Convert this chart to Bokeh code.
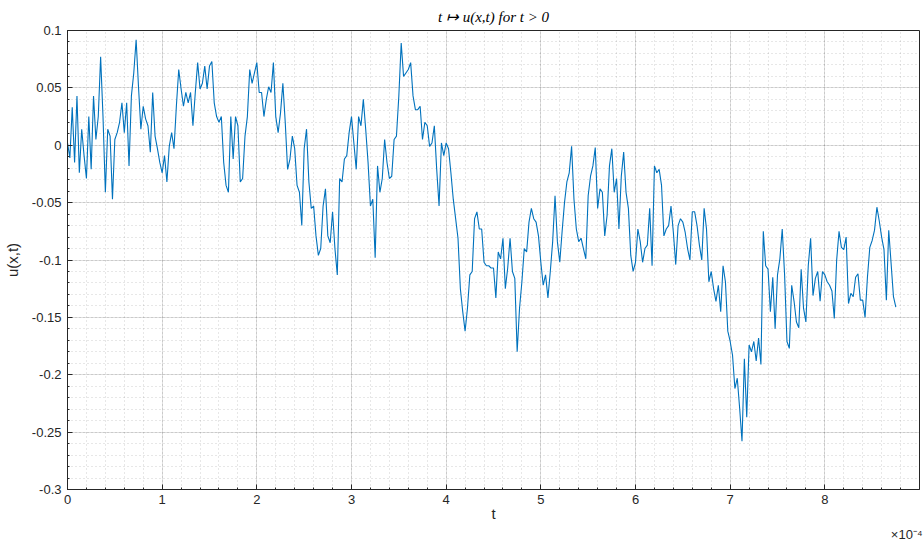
from bokeh.plotting import figure
from bokeh.models import Range1d, FixedTicker, CustomJSTickFormatter, Title
from bokeh.embed import file_html
from bokeh.resources import INLINE

# sampling step of the time axis (seconds)
t_step = 2.5e-6

# u(x,t), one value per time step
u_vals = [
    0.002, -0.011, 0.033, -0.015, 0.043, -0.024, 0.014, -0.009, -0.029, 0.025,
    -0.021, 0.043, 0.005, 0.025, 0.077, 0.025, -0.041, 0.014, 0.008, -0.047,
    0.005, 0.011, 0.020, 0.037, 0.011, 0.037, -0.018, 0.043, 0.063, 0.092,
    0.051, 0.014, 0.034, 0.023, 0.017, -0.006, 0.046, 0.008, -0.003, -0.015,
    -0.024, -0.009, -0.032, -0.001, 0.011, -0.003, 0.034, 0.066, 0.049, 0.034,
    0.046, 0.037, 0.046, 0.017, 0.046, 0.072, 0.049, 0.054, 0.069, 0.049,
    0.069, 0.073, 0.037, 0.025, 0.020, 0.025, -0.015, -0.035, -0.041, 0.025,
    -0.012, 0.025, 0.017, -0.032, -0.029, 0.008, 0.025, 0.066, 0.054, 0.063,
    0.072, 0.046, 0.046, 0.025, 0.040, 0.051, 0.046, 0.072, 0.025, 0.011,
    0.028, 0.054, 0.020, -0.021, -0.012, 0.008, -0.003, -0.035, -0.041, -0.070,
    -0.003, 0.014, -0.032, -0.055, -0.053, -0.079, -0.096, -0.090, -0.053, -0.038,
    -0.079, -0.085, -0.058, -0.090, -0.113, -0.029, -0.032, -0.012, -0.009, 0.011,
    0.025, 0.002, -0.021, 0.025, 0.017, 0.040, 0.014, -0.015, -0.053, -0.047,
    -0.098, -0.018, -0.041, -0.029, 0.005, -0.015, -0.029, -0.027, 0.005, 0.008,
    0.043, 0.089, 0.060, 0.063, 0.066, 0.072, 0.043, 0.031, 0.031, 0.034,
    0.005, 0.020, 0.017, -0.001, 0.002, 0.017, -0.021, -0.053, 0.002, -0.009,
    0.002, -0.003, -0.024, -0.047, -0.064, -0.081, -0.125, -0.145, -0.162, -0.142,
    -0.113, -0.110, -0.064, -0.058, -0.073, -0.073, -0.102, -0.105, -0.105, -0.107,
    -0.107, -0.133, -0.093, -0.099, -0.081, -0.125, -0.107, -0.081, -0.110, -0.116,
    -0.180, -0.142, -0.119, -0.090, -0.093, -0.067, -0.055, -0.064, -0.067, -0.079,
    -0.102, -0.122, -0.113, -0.133, -0.110, -0.084, -0.044, -0.084, -0.102, -0.075,
    -0.050, -0.032, -0.024, -0.001, -0.047, -0.073, -0.084, -0.081, -0.090, -0.099,
    -0.044, -0.027, -0.018, -0.002, -0.055, -0.038, -0.041, -0.079, -0.061, -0.018,
    -0.003, -0.041, -0.029, -0.073, -0.027, -0.006, -0.041, -0.055, -0.096, -0.110,
    -0.102, -0.073, -0.084, -0.102, -0.090, -0.087, -0.055, -0.105, -0.018, -0.024,
    -0.021, -0.035, -0.079, -0.073, -0.070, -0.053, -0.076, -0.104, -0.070, -0.064,
    -0.067, -0.076, -0.090, -0.100, -0.058, -0.058, -0.070, -0.087, -0.100, -0.055,
    -0.073, -0.119, -0.110, -0.125, -0.136, -0.122, -0.145, -0.105, -0.119, -0.162,
    -0.171, -0.183, -0.212, -0.203, -0.229, -0.258, -0.186, -0.237, -0.174, -0.180,
    -0.171, -0.188, -0.168, -0.191, -0.075, -0.105, -0.108, -0.145, -0.115, -0.160,
    -0.113, -0.099, -0.073, -0.113, -0.171, -0.177, -0.122, -0.136, -0.154, -0.159,
    -0.108, -0.142, -0.154, -0.105, -0.081, -0.131, -0.116, -0.110, -0.136, -0.110,
    -0.113, -0.119, -0.122, -0.127, -0.151, -0.100, -0.075, -0.089, -0.091, -0.080,
    -0.138, -0.129, -0.132, -0.115, -0.112, -0.135, -0.135, -0.150, -0.115, -0.089,
    -0.083, -0.074, -0.054, -0.066, -0.080, -0.091, -0.135, -0.074, -0.103, -0.132,
    -0.141,
]
t_vals = [i * t_step for i in range(len(u_vals))]

x_ticks = [i * 1e-4 for i in range(10)]
x_minor = [i * 0.2e-4 for i in range(46)]
y_ticks = [-0.3, -0.25, -0.2, -0.15, -0.1, -0.05, 0.0, 0.05, 0.1]
y_minor = [round(-0.3 + 0.01 * i, 2) for i in range(41)]

title_text = "t \u21a6 u(x,t) for t > 0"
x_label = "t"
y_label = "u(x,t)"
exp_label = "\u00d710\u207b\u2074"

AX = "#262626"
FONT = "Liberation Sans"

p = figure(width=923, height=541, output_backend="svg", toolbar_location=None,
           x_range=Range1d(0, 9e-4), y_range=Range1d(-0.3, 0.1),
           min_border_left=67, min_border_right=4, min_border_top=30,
           min_border_bottom=10, background_fill_color="white",
           border_fill_color="white")

p.line(t_vals, u_vals, line_color="#0072BD", line_width=1.1)

p.title.text = title_text
p.title.align = "center"
p.title.text_font = "Liberation Serif"
p.title.text_font_style = "italic"
p.title.text_font_size = "15px"
p.title.text_color = "black"
p.title.standoff = 12

p.xaxis.ticker = FixedTicker(ticks=x_ticks, minor_ticks=x_minor)
p.yaxis.ticker = FixedTicker(ticks=y_ticks, minor_ticks=y_minor)
p.xaxis.formatter = CustomJSTickFormatter(code="return String(Math.round(tick*1e4));")
p.yaxis.formatter = CustomJSTickFormatter(code="return String(Math.round(tick*100)/100);")

for ax in (p.xaxis, p.yaxis):
    ax.axis_line_color = AX
    ax.major_tick_line_color = AX
    ax.minor_tick_line_color = AX
    ax.major_tick_in = 5
    ax.major_tick_out = 0
    ax.minor_tick_in = 2
    ax.minor_tick_out = 0
    ax.major_label_text_font = FONT
    ax.major_label_text_font_size = "13px"
    ax.major_label_text_color = AX
    ax.axis_label_text_font = FONT
    ax.axis_label_text_font_size = "15px"
    ax.axis_label_text_font_style = "normal"
    ax.axis_label_text_color = AX

p.xaxis.axis_label = x_label
p.yaxis.axis_label = y_label
p.xaxis.major_label_standoff = 5
p.xaxis.axis_label_standoff = -2
p.yaxis.major_label_standoff = 6
p.yaxis.axis_label_standoff = 8

for g in (p.xgrid, p.ygrid):
    g.grid_line_color = AX
    g.grid_line_alpha = 0.15
    g.minor_grid_line_color = AX
    g.minor_grid_line_alpha = 0.22
    g.minor_grid_line_dash = "1 3"

p.outline_line_color = AX
p.outline_line_alpha = 1.0

exp_title = Title(text=exp_label, align="right", text_font=FONT,
                  text_font_size="13px", text_font_style="normal",
                  text_color=AX, standoff=0, offset=-3)
p.add_layout(exp_title, "below")

open("out.html", "w").write(file_html(p, INLINE))
